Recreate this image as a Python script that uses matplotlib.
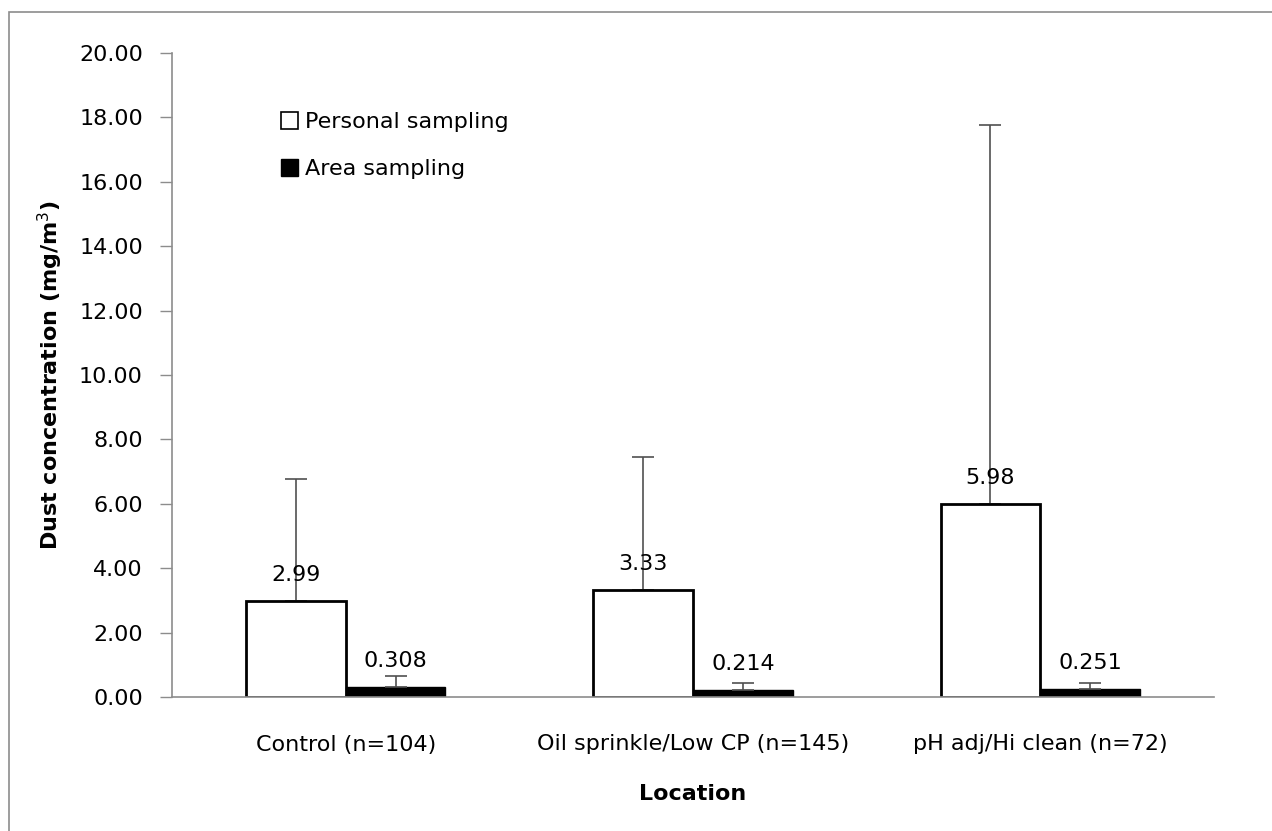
import numpy as np
import matplotlib.pyplot as plt
from matplotlib.patches import Patch, Rectangle

plt.rcParams['font.family'] = ['DejaVu Sans']

# ── data ──
categories = ['Control (n=104)', 'Oil sprinkle/Low CP (n=145)', 'pH adj/Hi clean (n=72)']
personal = [2.99, 3.33, 5.98]
personal_err = [3.77, 4.12, 11.77]
area = [0.308, 0.214, 0.251]
area_err = [0.34, 0.21, 0.19]
personal_labels = ['2.99', '3.33', '5.98']
area_labels = ['0.308', '0.214', '0.251']
yticks = np.arange(0, 20.01, 2)

# ── figure ──
fig = plt.figure(figsize=(12.72, 8.31), dpi=100, facecolor='white')
ax = fig.add_axes([172 / 1272, 1 - 697 / 831, (1214 - 172) / 1272, (697 - 53) / 831])

# outer chart border like a spreadsheet chart area
fig.patches.append(Rectangle((9 / 1272, -0.05), 1.2, 1 - 12 / 831 + 0.05, transform=fig.transFigure,
                             fill=False, edgecolor='#8c8c8c', linewidth=1.2))

x = np.arange(len(categories))
w = 0.287

ax.bar(x - w / 2, personal, w, color='white', edgecolor='black', linewidth=2, zorder=2)
ax.bar(x + w / 2, area, w, color='black', edgecolor='black', linewidth=1, zorder=2)

# one-sided (upper) error bars
ax.errorbar(x - w / 2, personal, yerr=[np.zeros(3), personal_err], fmt='none',
            ecolor='#505050', elinewidth=1.2, capsize=8, capthick=1.2, zorder=1)
ax.errorbar(x + w / 2, area, yerr=[np.zeros(3), area_err], fmt='none',
            ecolor='#505050', elinewidth=1.2, capsize=8, capthick=1.2, zorder=3)

for xi, v, lab in zip(x - w / 2, personal, personal_labels):
    ax.text(xi, v + 0.5, lab, ha='center', va='bottom', fontsize=16, zorder=4)
for xi, v, lab in zip(x + w / 2, area, area_labels):
    ax.text(xi, v + 0.5, lab, ha='center', va='bottom', fontsize=16, zorder=4)

ax.set_xlim(-0.5, 2.5)
ax.set_ylim(0, 20)
ax.set_yticks(yticks)
ax.set_yticklabels([f'{t:.2f}' for t in yticks], fontsize=16)
ax.set_xticks(x)
ax.set_xticklabels(categories, fontsize=16)
ax.tick_params(axis='x', length=0, pad=27)
ax.tick_params(axis='y', length=9, width=1, color='#8c8c8c', pad=12)

for s in ['top', 'right']:
    ax.spines[s].set_visible(False)
ax.spines['left'].set_color('#8c8c8c')
ax.spines['bottom'].set_color('#8c8c8c')
ax.spines['left'].set_linewidth(1.2)
ax.spines['bottom'].set_linewidth(1.2)

ax.set_ylabel('Dust concentration (mg/m$^3$)', fontsize=16, fontweight='bold', labelpad=10)
ax.set_xlabel('Location', fontsize=16, fontweight='bold', labelpad=21)

handles = [Patch(facecolor='white', edgecolor='black', linewidth=1.2, label='Personal sampling'),
           Patch(facecolor='black', edgecolor='black', label='Area sampling')]
ax.legend(handles=handles, loc='upper left', bbox_to_anchor=(0.085, 0.94), frameon=False,
          fontsize=16, handlelength=0.8, handleheight=0.8, handletextpad=0.3, labelspacing=1.2)

fig.savefig('out.png', dpi=100, facecolor='white')
